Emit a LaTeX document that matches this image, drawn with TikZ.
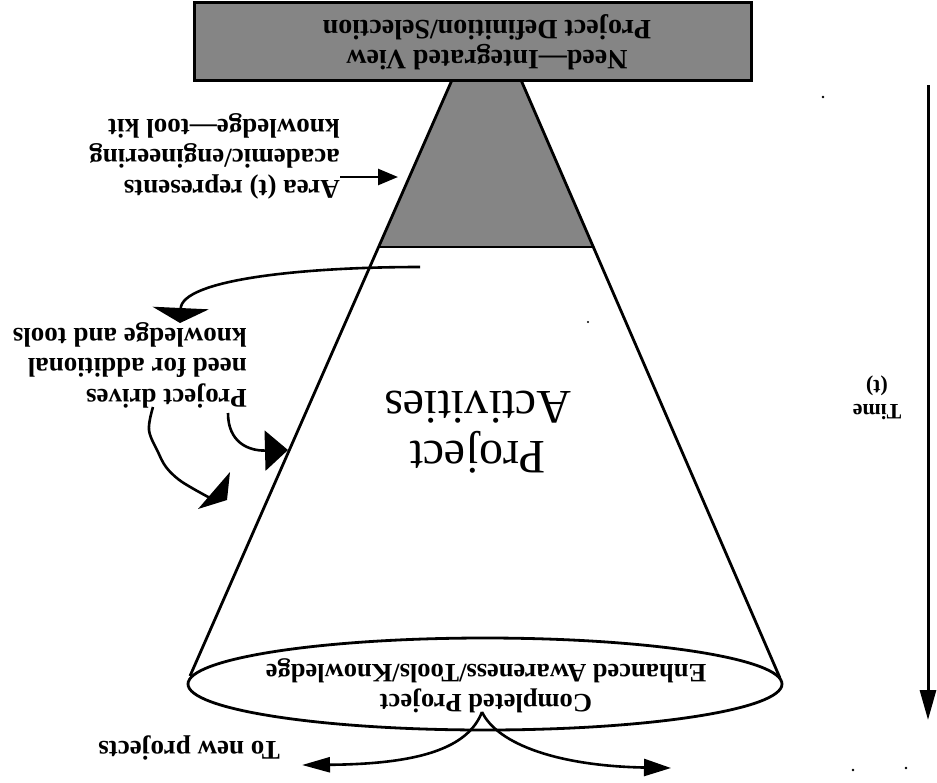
\documentclass[tikz,border=0pt]{standalone}
\usepackage{fontspec}
\setmainfont{Liberation Serif}
\usetikzlibrary{arrows.meta,shapes.geometric}

\definecolor{stipple}{gray}{0.52}

\begin{document}
\begin{tikzpicture}[x=1pt,y=-1pt,
  thick line/.style={line width=2.8pt},
  arrowline/.style={line width=2.6pt},
  flipped/.style={rotate=180, inner sep=0pt},
  boldlabel/.style={flipped, font=\bfseries\fontsize{27}{30.5}\selectfont, align=left},
  speck/.style={fill=black},
]
\useasboundingbox (0,0) rectangle (937,782);

% ---- cone outline points ----
\coordinate (topL) at (452,80);
\coordinate (topR) at (521,80);
\coordinate (midL) at (378.6,247);
\coordinate (midR) at (593.3,247);
\coordinate (botL) at (190,676);
\coordinate (botR) at (780,678);

% shaded tool-kit area at the top of the cone
\fill[stipple] (topL) -- (topR) -- (midR) -- (midL) -- cycle;
\draw[line width=2pt] (midL) -- (midR);

% cone sides
\draw[thick line] (topL) -- (botL);
\draw[thick line] (topR) -- (botR);

% heading box
\node (head) [rectangle, draw, line width=3pt, fill=stipple,
  minimum width=557pt, minimum height=78pt, inner sep=0pt] at (472.5,41) {};
\node (headtext) [flipped, align=center, font=\bfseries\fontsize{28}{30}\selectfont]
  at (487,42) {Need---Integrated View\\Project Definition/Selection};

% base ellipse
\node (base) [ellipse, draw, line width=2.8pt, minimum width=594pt,
  minimum height=92pt, inner sep=0pt] at (485,684) {};
\node (basetext) [flipped, align=center, font=\bfseries\fontsize{26.5}{29.5}\selectfont]
  at (486,686) {Completed Project\\Enhanced Awareness/Tools/Knowledge};

% central label
\node (act) [flipped, align=center, font=\fontsize{48}{50}\selectfont]
  at (478,432) {Project\\Activities};

% side labels
\node (area) [boldlabel, anchor=west] at (340,156)
  {Area (t) represents\\academic/engineering\\knowledge---tool kit};
\node (drives) [boldlabel, anchor=west] at (247,365)
  {Project drives\\need for additional\\knowledge and tools};
\node (newproj) [boldlabel, anchor=west] at (280,748) {To new projects};
\node (time) [flipped, align=center, font=\bfseries\fontsize{22}{24}\selectfont]
  at (877,398) {Time\\(t)};

% area pointer
\coordinate (areaS) at (340,177);
\coordinate (areaE) at (398,177);
\draw[arrowline, -{Triangle[length=20pt,width=16pt]}] (areaS) -- (areaE);

% loop from the cone out to the drives label
\coordinate (loopS) at (420,267);
\coordinate (loopE) at (180,323);
\draw[arrowline, -{Triangle[length=15pt,width=56pt]}]
  (loopS) .. controls (300,267) and (182,280) .. (loopE);

% drives label back into the cone
\coordinate (drvS) at (228,413);
\coordinate (drvE) at (288,450);
\draw[arrowline, -{Triangle[length=23pt,width=40pt]}]
  (drvS) .. controls (228,442) and (248,451) .. (drvE);

% hand-drawn second arrow
\coordinate (wigS) at (153,407);
\coordinate (wigE) at (210,498);
\draw[arrowline, line join=round]
  plot[smooth, tension=0.6] coordinates
  {(wigS) (149,430) (158,452) (166,467) (178,479) (192,488) (wigE)};
\fill (230,472) -- (198,509) -- (227,500) -- cycle;

% outgoing arrows to new projects
\coordinate (split) at (482,712);
\coordinate (outL) at (302,765);
\coordinate (outR) at (671,768);
\draw[arrowline, -{Triangle[length=28pt,width=15pt]}]
  (split) .. controls (468,748) and (420,764) .. (outL);
\draw[arrowline, -{Triangle[length=27pt,width=17pt]}]
  (split) .. controls (498,745) and (560,766) .. (outR);

% time axis
\coordinate (timeS) at (928,85);
\coordinate (timeE) at (928,720);
\draw[line width=3pt, -{Triangle[length=30pt,width=16pt]}] (timeS) -- (timeE);

% stray specks
\fill[speck] (823,97) circle (1.4);
\fill[speck] (588,322) circle (1.1);
\fill[speck] (853,770) circle (1.4);
\fill[speck] (906,768) circle (1.4);
\end{tikzpicture}
\end{document}
